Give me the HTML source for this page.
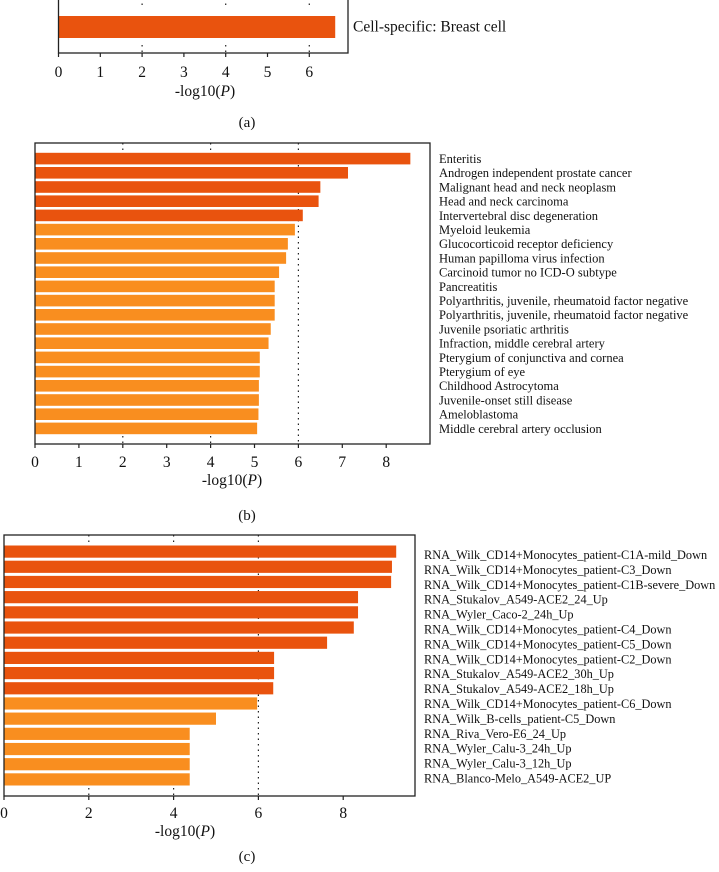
<!DOCTYPE html>
<html><head><meta charset="utf-8"><style>
body{margin:0;background:#fff;}
svg{display:block;font-family:"Liberation Serif",serif;}
</style></head><body>
<svg id="chart" width="719" height="872" viewBox="0 0 719 872" xmlns="http://www.w3.org/2000/svg"></svg>
<script>
// Panel (a)
const catsA = ["Cell-specific: Breast cell"];
const valsA = [6.62];
const darkA = [true];
const ticksA = [0,1,2,3,4,5,6];
// Panel (b)
const catsB = ["Enteritis","Androgen independent prostate cancer","Malignant head and neck neoplasm","Head and neck carcinoma","Intervertebral disc degeneration","Myeloid leukemia","Glucocorticoid receptor deficiency","Human papilloma virus infection","Carcinoid tumor no ICD-O subtype","Pancreatitis","Polyarthritis, juvenile, rheumatoid factor negative","Polyarthritis, juvenile, rheumatoid factor negative","Juvenile psoriatic arthritis","Infraction, middle cerebral artery","Pterygium of conjunctiva and cornea","Pterygium of eye","Childhood Astrocytoma","Juvenile-onset still disease","Ameloblastoma","Middle cerebral artery occlusion"];
const valsB = [8.55,7.13,6.5,6.46,6.1,5.92,5.76,5.72,5.56,5.46,5.46,5.46,5.37,5.32,5.12,5.12,5.1,5.1,5.09,5.06];
const darkB = [true,true,true,true,true,false,false,false,false,false,false,false,false,false,false,false,false,false,false,false];
const ticksB = [0,1,2,3,4,5,6,7,8];
// Panel (c)
const catsC = ["RNA_Wilk_CD14+Monocytes_patient-C1A-mild_Down","RNA_Wilk_CD14+Monocytes_patient-C3_Down","RNA_Wilk_CD14+Monocytes_patient-C1B-severe_Down","RNA_Stukalov_A549-ACE2_24_Up","RNA_Wyler_Caco-2_24h_Up","RNA_Wilk_CD14+Monocytes_patient-C4_Down","RNA_Wilk_CD14+Monocytes_patient-C5_Down","RNA_Wilk_CD14+Monocytes_patient-C2_Down","RNA_Stukalov_A549-ACE2_30h_Up","RNA_Stukalov_A549-ACE2_18h_Up","RNA_Wilk_CD14+Monocytes_patient-C6_Down","RNA_Wilk_B-cells_patient-C5_Down","RNA_Riva_Vero-E6_24_Up","RNA_Wyler_Calu-3_24h_Up","RNA_Wyler_Calu-3_12h_Up","RNA_Blanco-Melo_A549-ACE2_UP"];
const valsC = [9.25,9.15,9.13,8.35,8.35,8.25,7.62,6.37,6.37,6.35,5.97,5.0,4.38,4.38,4.38,4.38];
const darkC = [true,true,true,true,true,true,true,true,true,true,false,false,false,false,false,false];
const ticksC = [0,2,4,6,8];

const svg = document.getElementById('chart');
const NS = "http://www.w3.org/2000/svg";
function mk(tag, attrs, parent){
  const e = document.createElementNS(NS, tag);
  for (const k in attrs) e.setAttribute(k, attrs[k]);
  (parent||svg).appendChild(e); return e;
}
const DARK="#E9530E", LIGHT="#F98E1F";

function panel(p){
  const g = mk('g', {});
  
  
  const xs = v => p.x0 + v * p.unit;
  const n = p.vals.length;
  const pitch = (p.barBot - p.barTop) / n;
  p.grid.forEach(v => {
    const gl = mk('line', {x1:xs(v), x2:xs(v), y1:p.boxTop, y2:p.boxBot, stroke:"#222", "stroke-width":1.2, "stroke-dasharray":"1.5,4"}, g);
    
    
  });
  p.minor.forEach(v => {
    [[p.boxTop, p.boxTop+8],[p.boxBot-8, p.boxBot]].forEach(s => {
      const ml = mk('line', {x1:xs(v), x2:xs(v), y1:s[0], y2:s[1], stroke:"#222", "stroke-width":1.2, "stroke-dasharray":"1.5,4"}, g);
      
      
    });
  });
  p.vals.forEach((v,i) => {
    const r = mk('rect', {x:xs(0), y:p.barTop + i*pitch + p.gap/2, width:xs(v)-xs(0), height:pitch - p.gap, fill:p.dark[i]?DARK:LIGHT}, g);
    
    
    const t = mk('text', {x:p.labelX, y:p.labTop + i*p.labPitch, "font-size":p.fs, "dominant-baseline":"central", fill:"#111"}, g);
    t.textContent = p.cats[i];
    
    
  });
  const box = mk('rect', {x:p.x0, y:p.boxTop, width:p.boxRight-p.x0, height:p.boxBot-p.boxTop, fill:"none", stroke:"#222", "stroke-width":1.3}, g);
  
  
  p.ticks.forEach(v => {
    const tk = mk('line', {x1:xs(v), x2:xs(v), y1:p.boxBot, y2:p.boxBot+4, stroke:"#222", "stroke-width":1.2}, g);
    
    
    const tl = mk('text', {x:xs(v), y:p.tickY, "font-size":15.5, "text-anchor":"middle", fill:"#111"}, g);
    tl.textContent = v;
    
    
  });
  const xl = mk('text', {x:p.titleX, y:p.titleY, "font-size":15.5, "text-anchor":"middle", fill:"#111"}, g);
  xl.innerHTML = '-log10(<tspan font-style="italic">P</tspan>)';
  
  
  const pl = mk('text', {x:p.tagX, y:p.tagY, "font-size":15, "text-anchor":"middle", fill:"#111"}, g);
  pl.textContent = p.tag;
  
  
}

panel({name:'panel-a', cats:catsA, vals:valsA, dark:darkA, ticks:ticksA, grid:[], minor:[2,4,6],
  x0:58.5, unit:41.8, boxTop:-2, boxBot:53, boxRight:348, barTop:16, barBot:38, gap:0,
  labelX:353, labTop:27, labPitch:0, fs:15.5, tickY:77, titleX:205, titleY:96, tag:'(a)', tagX:247, tagY:127});
panel({name:'panel-b', cats:catsB, vals:valsB, dark:darkB, ticks:ticksB, grid:[6], minor:[2,4],
  x0:35, unit:43.9, boxTop:143, boxBot:444, boxRight:430, barTop:151.5, barBot:435.5, gap:2.6,
  labelX:439, labTop:159, labPitch:14.2, fs:12.5, tickY:467, titleX:232, titleY:485, tag:'(b)', tagX:247, tagY:520});
panel({name:'panel-c', cats:catsC, vals:valsC, dark:darkC, ticks:ticksC, grid:[6], minor:[2,4],
  x0:4, unit:42.4, boxTop:535, boxBot:796, boxRight:415, barTop:544, barBot:787, gap:3,
  labelX:424, labTop:555, labPitch:14.9, fs:12.3, tickY:818, titleX:185, titleY:836, tag:'(c)', tagX:247, tagY:861});
</script>
</body></html>
